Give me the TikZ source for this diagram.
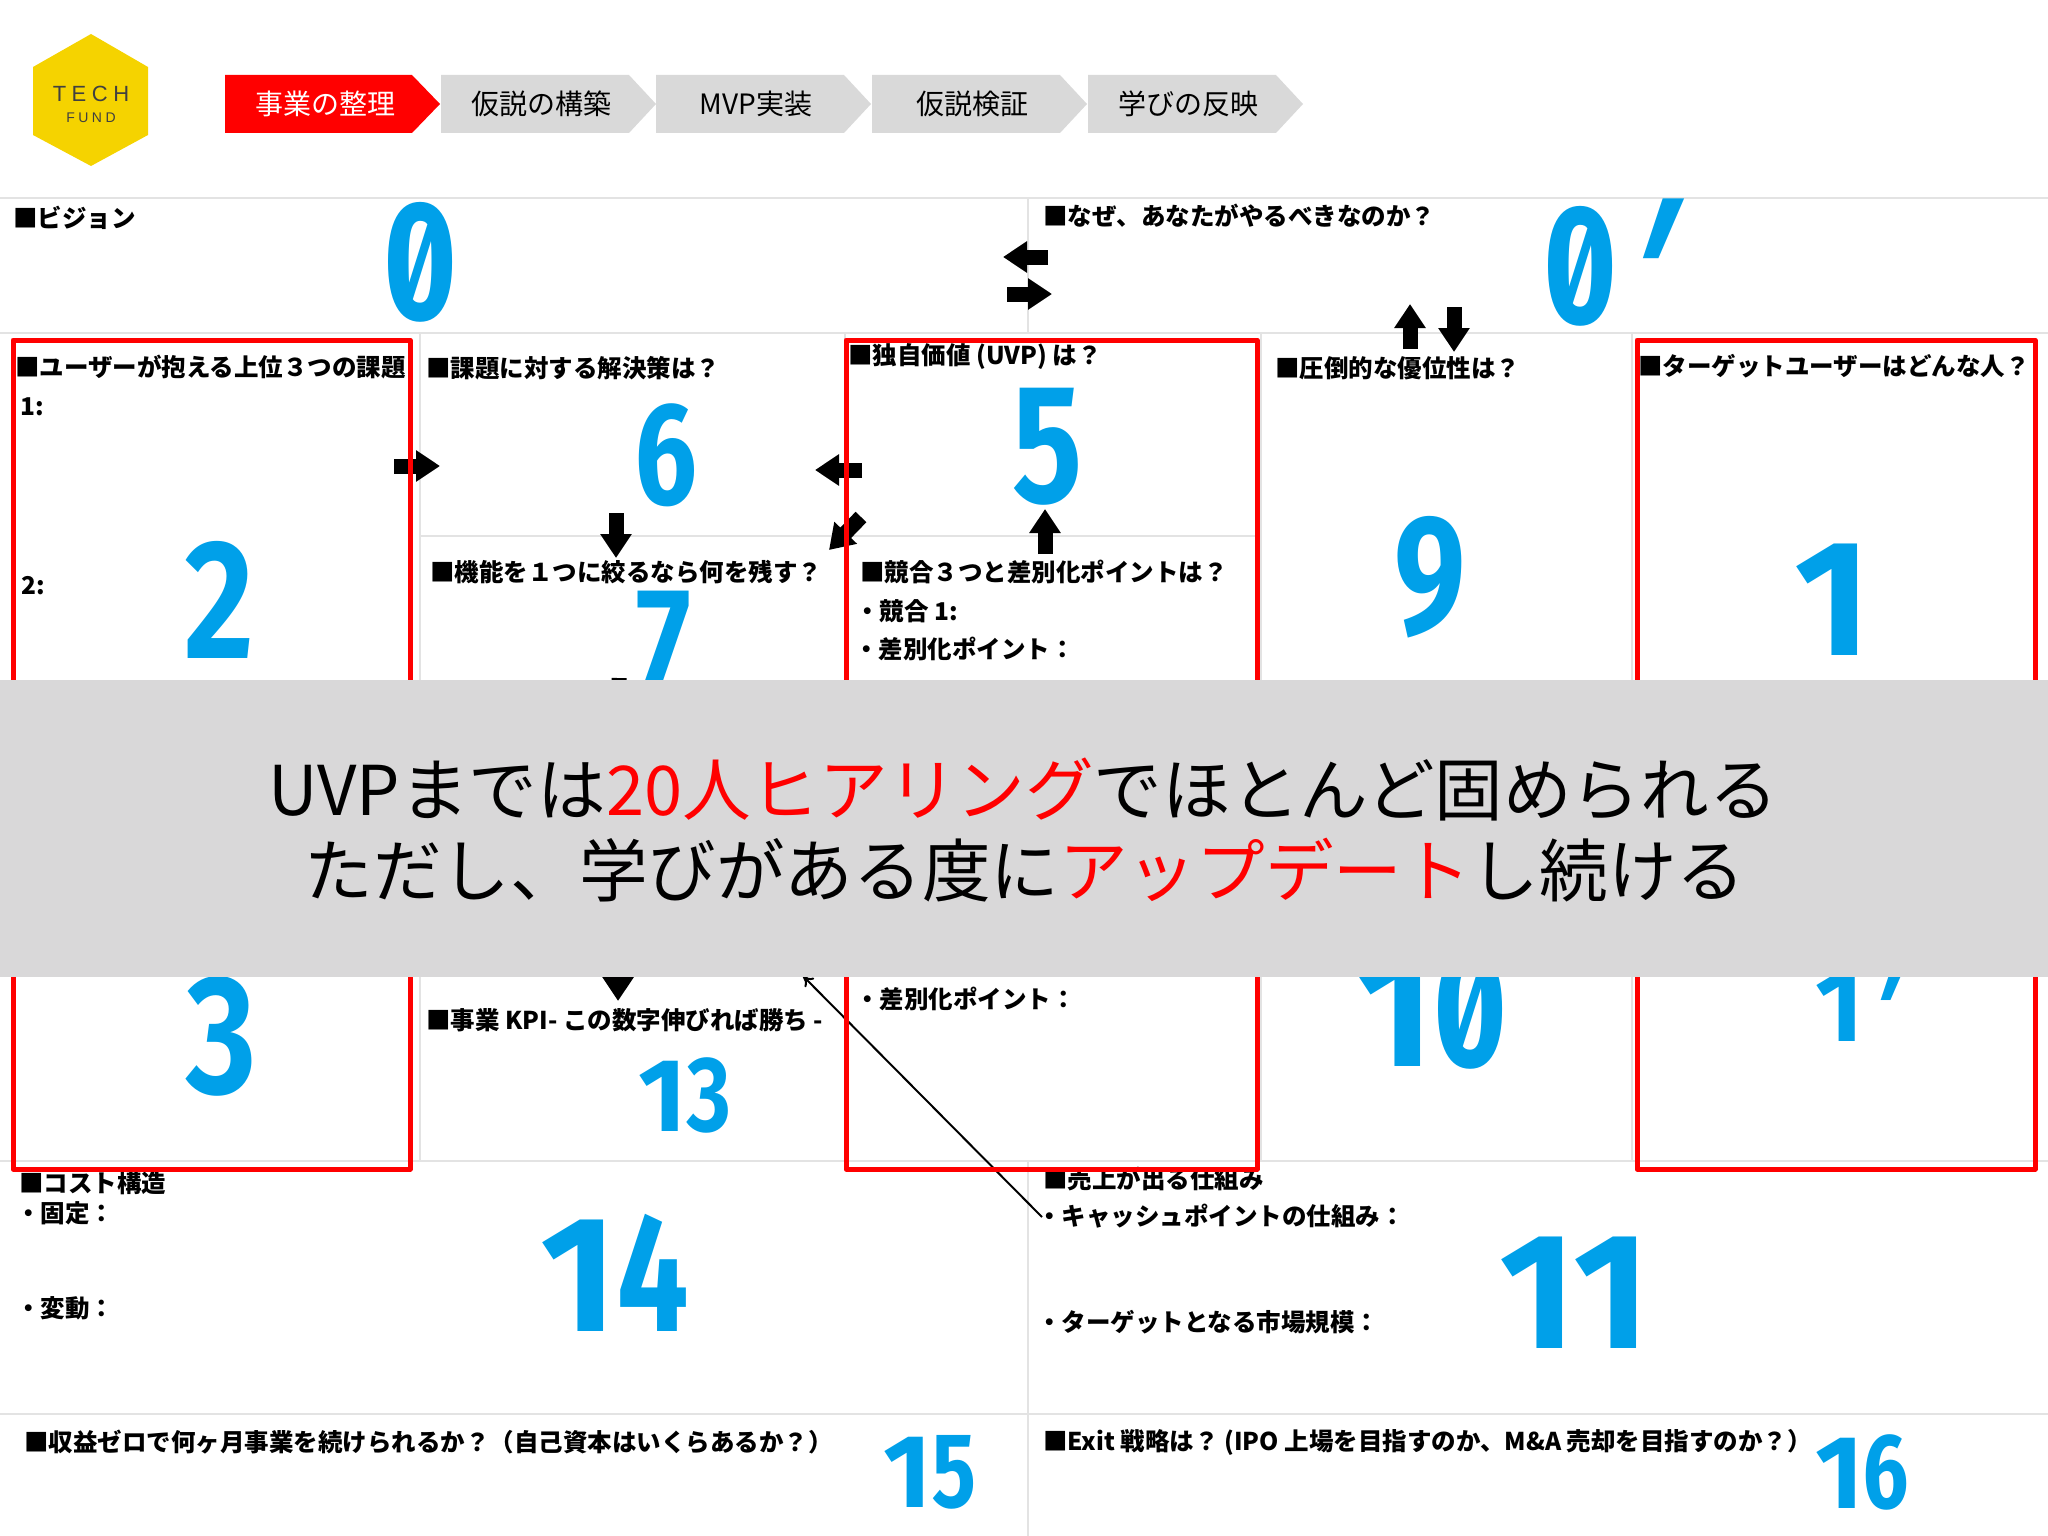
\documentclass[tikz,border=0pt]{standalone}
\usepackage{fontspec}
\usepackage{tikz}
\usetikzlibrary{arrows.meta}
\setmainfont{Noto Sans CJK JP}
\newfontfamily\numfont[FakeStretch=.78,RawFeature=+zero;+tnum]{Fira Sans}
\newfontfamily\onefont{Fira Sans}
\newfontfamily\primefont[Scale=1.3,FakeStretch=.7,FakeSlant=.38]{Fira Sans}
\newfontfamily\logofont[LetterSpace=25]{Liberation Sans}
\definecolor{numblue}{HTML}{00A0E9}
\definecolor{gridgray}{HTML}{E3E3E3}
\definecolor{stepgray}{HTML}{D9D9D9}
\definecolor{bandgray}{HTML}{D9D8D9}
\definecolor{logoyellow}{HTML}{F5D300}
\newcommand{\redtext}[1]{\textcolor{red}{#1}}
\newcommand{\numone}{{\onefont\bfseries 1}}
\newcommand{\numprime}{\kern-.1em\raisebox{-.15em}{\primefont\bfseries '}}
\tikzset{
    gridline/.style={gridgray,line width=2.5pt},
    redbox/.style={draw=red,line width=5pt,line join=round},
    cell/.style={anchor=west,inner sep=0pt,font=\fontsize{24.5}{28}\selectfont\bfseries},
    bignum/.style={inner sep=0pt,text=numblue,font=\fontsize{165}{165}\selectfont\numfont\bfseries},
    largenum/.style={inner sep=0pt,text=numblue,font=\fontsize{142}{142}\selectfont\numfont\bfseries},
    midnum/.style={inner sep=0pt,text=numblue,font=\fontsize{104}{104}\selectfont\numfont\bfseries},
    fatarrow/.style={line width=15pt,-{Triangle[length=24pt,width=30pt]}},
    steplabel/.style={inner sep=0pt,font=\fontsize{28}{32}\selectfont},
    bandline/.style={inner sep=0pt,font=\fontsize{68.6}{72}\selectfont},
}

\begin{document}
\begin{tikzpicture}[x=1pt,y=-1pt]
        \useasboundingbox (0,0) rectangle (2048,1536);
        % grid of the canvas
        \draw[gridline] (0,198) -- (2048,198);
        \draw[gridline] (0,333) -- (2048,333);
        \draw[gridline] (420,536) -- (1258,536);
        \draw[gridline] (0,1161) -- (2048,1161);
        \draw[gridline] (0,1414) -- (2048,1414);
        \draw[gridline] (1028,198) -- (1028,333);
        \draw[gridline] (1028,1161) -- (1028,1536);
        \draw[gridline] (420,333) -- (420,1161);
        \draw[gridline] (845,333) -- (845,1161);
        \draw[gridline] (1261,333) -- (1261,1161);
        \draw[gridline] (1632,333) -- (1632,1161);
        % logo
        \fill[logoyellow] (91,34) -- (148,67) -- (148,135) -- (91,166) -- (33,135) -- (33,67) -- cycle;
        \node[inner sep=0pt,text=black!75,font=\fontsize{22}{24}\selectfont\logofont] (logotech) at (91,94) {TECH};
        \node[inner sep=0pt,text=black!75,font=\fontsize{14}{16}\selectfont\logofont] (logofund) at (91,118) {FUND};
        % steps
        \fill[red] (225,75) -- (412,75) -- (440,104) -- (412,133) -- (225,133) -- cycle;
        \node[steplabel,text=white] (step0) at (325,104) {事業の整理};
        \foreach \x/\lab [count=\i] in {441/仮説の構築,656/MVP実装,872/仮説検証,1088/学びの反映} {
            \fill[stepgray] (\x,75) -- (\x+188,75) -- (\x+215,104) -- (\x+188,133) -- (\x,133) -- cycle;
            \node[steplabel] (step\i) at (\x+100,104) {\lab};
        }
        % cell titles
        \node[cell] (vision) at (13,218) {■ビジョン};
        \node[cell] (why) at (1043,216) {■なぜ、あなたがやるべきなのか？};
        \node[cell] (issue) at (15,367) {■ユーザーが抱える上位３つの課題};
        \node[cell] (issuea) at (20,407) {1:};
        \node[cell] (issueb) at (21,586) {2:};
        \node[cell] (answer) at (426,368) {■課題に対する解決策は？};
        \node[cell] (uvp) at (848,357) {■独自価値 (UVP) は？};
        \node[cell] (edge) at (1275,368) {■圧倒的な優位性は？};
        \node[cell] (target) at (1638,366) {■ターゲットユーザーはどんな人？};
        \node[cell] (feature) at (430,572) {■機能を１つに絞るなら何を残す？};
        \node[cell] (rival) at (860,572) {■競合３つと差別化ポイントは？};
        \node[cell] (rivala) at (855,611) {・競合 1:};
        \node[cell] (rivalb) at (854,649) {・差別化ポイント：};
        \node[cell] (rivalc) at (855,999) {・差別化ポイント：};
        \node[cell] (kpi) at (426,1020) {■事業 KPI- この数字伸びれば勝ち -};
        \node[cell] (cost) at (19,1183) {■コスト構造};
        \node[cell] (costa) at (16,1213) {・固定：};
        \node[cell] (costb) at (16,1308) {・変動：};
        \node[cell] (sales) at (1043,1179) {■売上が出る仕組み};
        \node[cell] (salesa) at (1037,1216) {・キャッシュポイントの仕組み：};
        \node[cell] (salesb) at (1037,1322) {・ターゲットとなる市場規模：};
        \node[cell] (runway) at (24,1442) {■収益ゼロで何ヶ月事業を続けられるか？（自己資本はいくらあるか？）};
        \node[cell] (exit) at (1043,1442) {■Exit 戦略は？ (IPO 上場を目指すのか、M\&A 売却を目指すのか？）};
        % numbers
        \node[bignum] (num0) at (421,262) {0};
        \node[bignum,anchor=base west] (num0p) at (1544,323) {0\numprime};
        \node[bignum] (num1) at (1833,600) {\numone};
        \node[bignum] (num2) at (220,600) {2};
        \node[bignum] (num3) at (222,1036) {3};
        \node[bignum] (num5) at (1048,447) {5};
        \node[largenum] (num6) at (667,455) {6};
        \node[largenum] (num7) at (664,642) {7};
        \node[bignum] (num9) at (1431,577) {9};
        \node[bignum] (num10) at (1432,1009) {\numone 0};
        \node[midnum,anchor=base west] (num1p) at (1815,1041) {\numone\numprime};
        \node[midnum] (num13) at (685,1095) {\numone 3};
        \node[bignum] (num14) at (615,1273) {\numone 4};
        \node[bignum] (num11) at (1575,1293) {\numone\numone};
        \node[midnum] (num15) at (930,1472) {\numone 5};
        \node[midnum] (num16) at (1862,1472) {\numone 6};
        % arrows
        \coordinate (aa) at (1048,257); \coordinate (ab) at (1003,257);
        \coordinate (ba) at (1007,294); \coordinate (bb) at (1052,294);
        \coordinate (ca) at (1410,349); \coordinate (cb) at (1410,304);
        \coordinate (da) at (1454,307); \coordinate (db) at (1454,352);
        \coordinate (ea) at (1045,554); \coordinate (eb) at (1045,509);
        \coordinate (fa) at (394,466); \coordinate (fb) at (440,466);
        \coordinate (ga) at (862,470); \coordinate (gb) at (815,470);
        \coordinate (ha) at (616,513); \coordinate (hb) at (616,558);
        \coordinate (ia) at (861,517); \coordinate (ib) at (829,550);
        \coordinate (ja) at (619,678); \coordinate (jb) at (618,1001);
        \coordinate (ka) at (1042,1217); \coordinate (kb) at (803,976);
        \draw[fatarrow] (aa) -- (ab);
        \draw[fatarrow] (ba) -- (bb);
        \draw[fatarrow] (ca) -- (cb);
        \draw[fatarrow] (da) -- (db);
        \draw[fatarrow] (ea) -- (eb);
        \draw[fatarrow] (fa) -- (fb);
        \draw[fatarrow] (ga) -- (gb);
        \draw[fatarrow] (ha) -- (hb);
        \draw[fatarrow] (ia) -- (ib);
        \draw[fatarrow] (ja) -- (jb);
        \draw[line width=2pt,-{To[length=10pt,width=13pt]}] (ka) -- (kb);
        % red frames
        \draw[redbox] (13,340) rectangle (410,1169);
        \draw[redbox] (846,340) rectangle (1257,1169);
        \draw[redbox] (1637,340) rectangle (2035,1169);
        % band over the canvas
        \fill[bandgray] (0,680) rectangle (2048,977);
        \node[bandline] (bandone) at (1023,789) {UVPまでは\redtext{20人ヒアリング}でほとんど固められる};
        \node[bandline] (bandtwo) at (1025,870) {ただし、学びがある度に\redtext{アップデート}し続ける};
\end{tikzpicture}
\end{document}
